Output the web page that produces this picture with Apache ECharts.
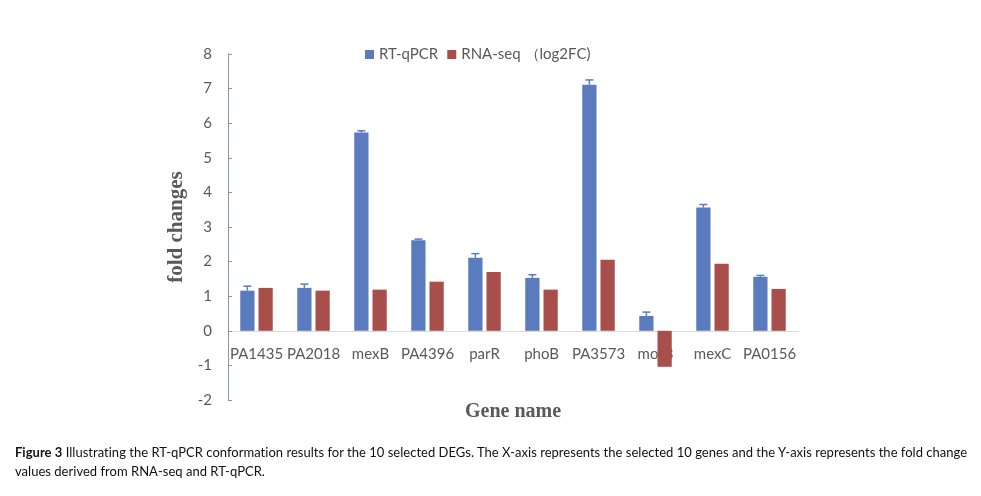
<!DOCTYPE html>
<html>
<head>
<meta charset="utf-8">
<script src="https://cdn.jsdelivr.net/npm/echarts@6/dist/echarts.min.js"></script>
<style>
  html, body { margin: 0; padding: 0; background: #fff; }
  #chart { width: 981px; height: 496px; position: absolute; left: 0; top: 0; }
  #caption { position: absolute; left: 15px; top: 443px; width: 955px; font-family: Lato, "Open Sans", sans-serif; font-size: 13px; letter-spacing: 0.02px; line-height: 19px; color: #111; }
</style>
</head>
<body>
<div id="chart"></div>
<div id="caption"><b>Figure 3</b> Illustrating the RT-qPCR conformation results for the 10 selected DEGs. The X-axis represents the selected 10 genes and the Y-axis represents the fold change values derived from RNA-seq and RT-qPCR.</div>
<script>
var genes = ['PA1435', 'PA2018', 'mexB', 'PA4396', 'parR', 'phoB', 'PA3573', 'motB', 'mexC', 'PA0156'];
var rtqpcr = [1.16, 1.24, 5.73, 2.62, 2.11, 1.53, 7.11, 0.43, 3.56, 1.56];
var rtqpcrErr = [0.13, 0.11, 0.05, 0.03, 0.12, 0.09, 0.14, 0.11, 0.09, 0.04];
var rnaseq = [1.24, 1.16, 1.19, 1.42, 1.70, 1.19, 2.05, -1.04, 1.94, 1.21];
var yTicks = { min: -2, max: 8, interval: 1 };

var blue = '#5b7bbf';
var red = '#a84f4c';
var errData = genes.map(function (g, i) { return [i, rtqpcr[i], rtqpcr[i] + rtqpcrErr[i]]; });

var chart = echarts.init(document.getElementById('chart'), null, { renderer: 'canvas' });
chart.setOption({
  animation: false,
  textStyle: { fontFamily: 'Lato, "Open Sans", sans-serif' },
  legend: {
    left: 360, top: 42,
    itemWidth: 9, itemHeight: 9, itemGap: 9,
    icon: 'rect',
    textStyle: { fontSize: 15, color: '#595959', fontFamily: 'Lato' },
    data: ['RT-qPCR', 'RNA-seq （log2FC)']
  },
  grid: { left: 228, right: 183, top: 54, bottom: 96, containLabel: false },
  xAxis: {
    type: 'category',
    data: genes,
    name: 'Gene name',
    nameLocation: 'middle',
    nameGap: 71,
    offset: -69,
    nameTextStyle: { fontFamily: '"Liberation Serif", "Times New Roman", serif', fontWeight: 'bold', fontSize: 20, color: '#595959' },
    axisLine: { onZero: false, lineStyle: { color: '#d9d9d9', width: 1 } },
    axisTick: { show: false },
    axisLabel: { fontSize: 15, color: '#595959', margin: 16, interval: 0 }
  },
  yAxis: {
    type: 'value',
    min: yTicks.min, max: yTicks.max, interval: yTicks.interval,
    name: 'fold changes',
    nameLocation: 'middle',
    nameGap: 33,
    nameTextStyle: { fontFamily: '"Liberation Serif", "Times New Roman", serif', fontWeight: 'bold', fontSize: 21, color: '#595959' },
    axisLine: { show: true, lineStyle: { color: '#8497b0', width: 1 } },
    axisTick: { show: true, inside: true, length: 4, lineStyle: { color: '#8497b0' } },
    axisLabel: { fontSize: 15, color: '#595959', margin: 16 },
    splitLine: { show: false }
  },
  series: [
    { name: 'RT-qPCR', type: 'bar', data: rtqpcr, barWidth: '25%', barGap: '28%', itemStyle: { color: blue } },
    { name: 'RNA-seq （log2FC)', type: 'bar', data: rnaseq, barWidth: '25%', itemStyle: { color: red } },
    {
      name: 'err', type: 'custom', data: errData, z: 5,
      renderItem: function (params, api) {
        var x = api.value(0);
        var pLo = api.coord([x, api.value(1)]);
        var pHi = api.coord([x, api.value(2)]);
        var band = api.size([1, 0])[0];
        var bw = band * 0.25;
        var off = -(bw + bw * 0.28) / 2;
        var cx = pLo[0] + off;
        var cap = 4;
        var style = { stroke: blue, lineWidth: 1.5, fill: null };
        return {
          type: 'group',
          children: [
            { type: 'line', shape: { x1: cx, y1: pLo[1], x2: cx, y2: pHi[1] }, style: style },
            { type: 'line', shape: { x1: cx - cap, y1: pHi[1], x2: cx + cap, y2: pHi[1] }, style: style }
          ]
        };
      }
    }
  ]
});
</script>
</body>
</html>
